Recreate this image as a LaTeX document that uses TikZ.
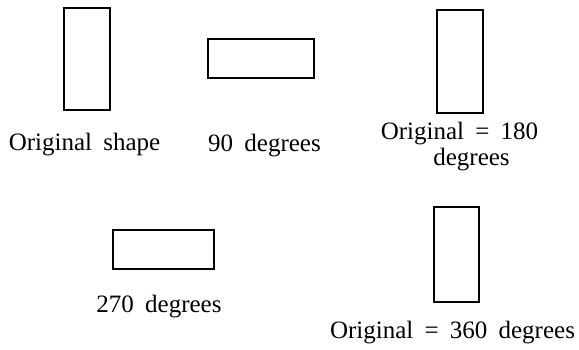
\documentclass[tikz,border=0pt]{standalone}
\usepackage{fontspec}
\setmainfont{Liberation Serif}
\newcommand{\capfont}{\fontsize{25}{21}\selectfont\spaceskip=0.45em plus 0.1em\relax}
\begin{document}
\begin{tikzpicture}[x=1pt,y=-1pt,
		shapebox/.style={draw,line width=2pt,inner sep=0pt},
		caption/.style={anchor=base,font=\capfont,inner sep=0pt}]
		\useasboundingbox (0,0) rectangle (579,349);
		
		% rectangles
		\node[shapebox,minimum width=46pt,minimum height=102pt] (orig) at (87,58.5) {};
		\node[shapebox,minimum width=106pt,minimum height=39pt] (r90) at (261,58.5) {};
		\node[shapebox,minimum width=46pt,minimum height=103pt] (r180) at (460,61.5) {};
		\node[shapebox,minimum width=101pt,minimum height=39pt] (r270) at (163.5,249.5) {};
		\node[shapebox,minimum width=45pt,minimum height=95pt] (r360) at (456.5,254.5) {};
		
		% labels
		\node[caption] (lorig) at (84.5,150) {Original shape};
		\node[caption] (l90) at (264.5,151) {90 degrees};
		\node[caption] (l180) at (459.5,139) {Original = 180};
		\node[caption] (l180b) at (471.5,165) {degrees};
		\node[caption] (l270) at (159,312) {270 degrees};
		\node[caption] (l360) at (452.5,338) {Original = 360 degrees};
		
	\end{tikzpicture}
\end{document}
